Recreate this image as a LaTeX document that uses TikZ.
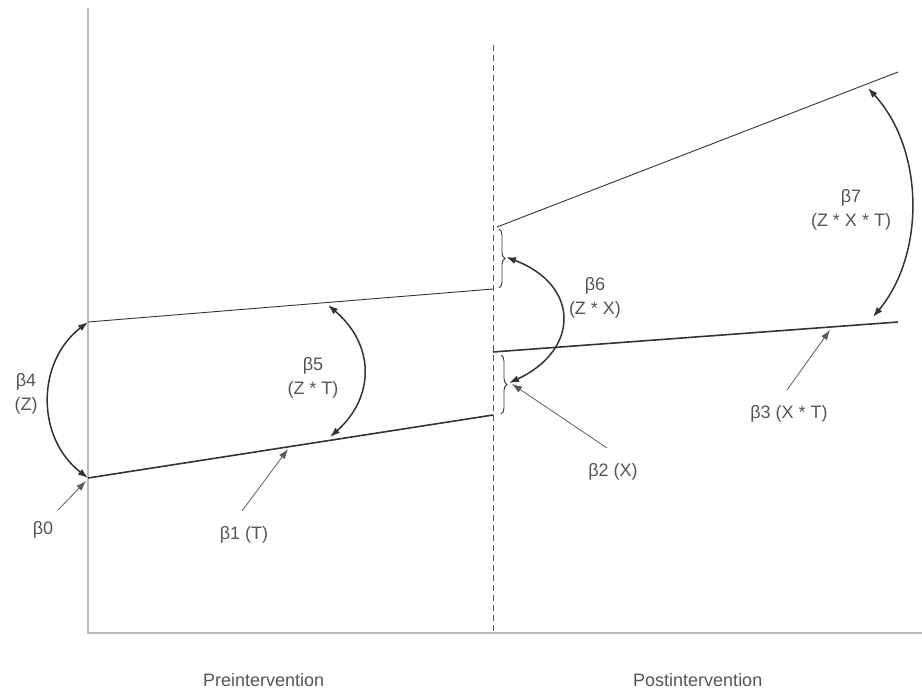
\documentclass[tikz,border=0pt]{standalone}
\usepackage{fontspec}
\setmainfont{Liberation Sans}
\usetikzlibrary{arrows.meta,decorations.pathreplacing}
\definecolor{txtgray}{HTML}{555555}
\definecolor{axisgray}{HTML}{BBBBBB}
\definecolor{linegray}{HTML}{333333}
\definecolor{dashgray}{HTML}{555555}
\begin{document}
\begin{tikzpicture}[x=1pt,y=-1pt,
  lbl/.style={text=txtgray,font=\fontsize{18}{24}\selectfont,align=center,inner sep=0pt},
  axisline/.style={draw=axisgray,line width=1.8pt},
  thinline/.style={draw=linegray,line width=0.9pt},
  thickline/.style={draw=linegray,line width=1.6pt},
  arcarrow/.style={draw=linegray,line width=1.5pt,{Latex[length=10pt,width=7pt]}-{Latex[length=10pt,width=7pt]}},
  pointer/.style={draw=linegray!80,line width=0.8pt,-{Latex[length=10pt,width=7pt]}},
  bracestyle/.style={draw=linegray,line width=0.9pt,decorate,decoration={brace,amplitude=6pt}}]
\useasboundingbox (0,0) rectangle (922,692);
% axes
\coordinate (Ytop) at (88,8);
\coordinate (O) at (88,633);
\coordinate (Xend) at (922,633);
\draw[axisline] (Ytop) -- (O) -- (Xend);
% intervention divider
\coordinate (V0) at (493,45);
\coordinate (V1) at (493,633);
\draw[draw=dashgray,line width=0.9pt,dash pattern=on 6pt off 4pt] (V0) -- (V1);
% regression lines
\coordinate (A0) at (88,478); \coordinate (A1) at (493,415);
\coordinate (B0) at (88,322); \coordinate (B1) at (493,289);
\coordinate (C0) at (493,352); \coordinate (C1) at (898,322);
\coordinate (D0) at (497,227); \coordinate (D1) at (898,72);
\draw[thickline] (A0) -- (A1);
\draw[thinline] (B0) -- (B1);
\draw[thickline] (C0) -- (C1);
\draw[thinline] (D0) -- (D1);
% braces
\coordinate (U0) at (499,229); \coordinate (U1) at (499,288);
\coordinate (L0) at (501,355); \coordinate (L1) at (501,414);
\draw[bracestyle] (U0) -- (U1);
\draw[bracestyle] (L0) -- (L1);
% curved double arrows
\coordinate (b5t) at (328,305); \coordinate (b5b) at (330,437);
\coordinate (b6t) at (506,257); \coordinate (b6b) at (509,383);
\coordinate (b7t) at (868,88); \coordinate (b7b) at (873,317);
\draw[arcarrow] (B0) .. controls (36,362) and (36,438) .. (A0);
\draw[arcarrow] (b5t) .. controls (375,345) and (375,397) .. (b5b);
\draw[arcarrow] (b6t) .. controls (580,285) and (580,350) .. (b6b);
\draw[arcarrow] (b7t) .. controls (925,150) and (925,255) .. (b7b);
% pointer arrows
\coordinate (p0s) at (58,510); \coordinate (p0e) at (86,481);
\coordinate (p1s) at (242,511); \coordinate (p1e) at (288,449);
\coordinate (p2s) at (607,448); \coordinate (p2e) at (512,384);
\coordinate (p3s) at (787,390); \coordinate (p3e) at (830,330);
\draw[pointer] (p0s) -- (p0e);
\draw[pointer] (p1s) -- (p1e);
\draw[pointer] (p2s) -- (p2e);
\draw[pointer] (p3s) -- (p3e);
% labels
\node[lbl] (l0) at (43,530) {β0};
\node[lbl] (l1) at (244,535) {β1 (T)};
\node[lbl] (l2) at (613,472) {β2 (X)};
\node[lbl] (l3) at (789,414) {β3 (X * T)};
\node[lbl] (l4) at (26,394) {β4\\(Z)};
\node[lbl] (l5) at (313,378) {β5\\(Z * T)};
\node[lbl] (l6) at (595,298) {β6\\(Z * X)};
\node[lbl] (l7) at (851,210) {β7\\(Z * X * T)};
\node[lbl,anchor=west] (pre) at (203,680) {Preintervention};
\node[lbl,anchor=west] (post) at (633,680) {Postintervention};
\end{tikzpicture}
\end{document}
